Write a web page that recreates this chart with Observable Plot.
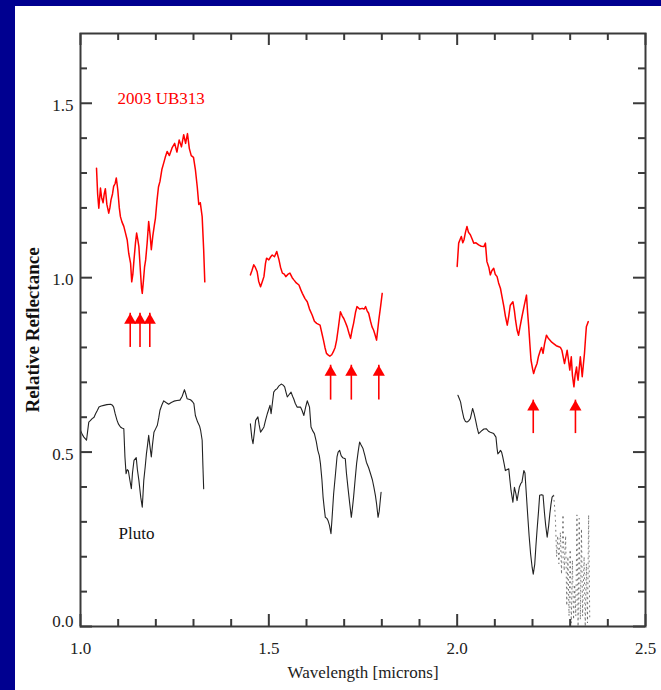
<!DOCTYPE html>
<html><head><meta charset="utf-8">
<script src="https://cdn.jsdelivr.net/npm/d3@7"></script>
<script src="https://cdn.jsdelivr.net/npm/@observablehq/plot@0.6"></script>
<style>
html,body{margin:0;padding:0;background:#000090;width:661px;height:690px;overflow:hidden}
#chart{position:absolute;left:15px;top:6px;width:646px;height:684px;background:#fff}
</style></head><body><div id="chart"></div>
<script>
// ---- data: [wavelength (microns), relative reflectance]
const erisJ = [[1.0425,1.314],[1.0455,1.24],[1.0486,1.199],[1.053,1.257],[1.056,1.23],[1.060,1.215],[1.063,1.24],[1.066,1.255],[1.070,1.21],[1.075,1.185],[1.078,1.20],[1.081,1.223],[1.085,1.24],[1.088,1.262],[1.092,1.27],[1.095,1.286],[1.099,1.252],[1.103,1.20],[1.106,1.175],[1.110,1.16],[1.115,1.147],[1.119,1.13],[1.124,1.108],[1.128,1.07],[1.133,1.041],[1.136,0.988],[1.139,1.01],[1.142,1.051],[1.146,1.10],[1.149,1.128],[1.152,1.11],[1.155,1.089],[1.159,1.02],[1.162,0.97],[1.164,0.955],[1.167,0.99],[1.170,1.03],[1.173,1.051],[1.177,1.10],[1.181,1.161],[1.185,1.12],[1.188,1.080],[1.192,1.12],[1.196,1.15],[1.199,1.171],[1.203,1.22],[1.207,1.26],[1.211,1.276],[1.216,1.31],[1.221,1.329],[1.225,1.345],[1.230,1.362],[1.236,1.35],[1.243,1.372],[1.250,1.385],[1.256,1.36],[1.262,1.395],[1.268,1.375],[1.274,1.41],[1.279,1.385],[1.284,1.413],[1.289,1.37],[1.294,1.35],[1.300,1.345],[1.305,1.31],[1.310,1.26],[1.314,1.21],[1.318,1.215],[1.323,1.175],[1.327,1.08],[1.330,0.988]];
const erisH = [[1.451,1.008],[1.455,1.02],[1.460,1.037],[1.464,1.03],[1.469,1.017],[1.473,0.99],[1.478,0.974],[1.483,0.99],[1.487,1.003],[1.491,1.04],[1.494,1.056],[1.500,1.051],[1.505,1.06],[1.509,1.065],[1.515,1.06],[1.521,1.075],[1.527,1.051],[1.531,1.03],[1.536,1.013],[1.541,1.01],[1.545,1.003],[1.551,1.01],[1.556,1.013],[1.562,1.00],[1.567,0.993],[1.573,0.985],[1.580,0.979],[1.585,0.965],[1.589,0.955],[1.596,0.94],[1.602,0.931],[1.608,0.91],[1.615,0.893],[1.621,0.875],[1.627,0.869],[1.636,0.864],[1.641,0.84],[1.645,0.821],[1.649,0.80],[1.653,0.783],[1.658,0.778],[1.662,0.775],[1.667,0.779],[1.671,0.787],[1.676,0.80],[1.680,0.821],[1.685,0.86],[1.690,0.902],[1.695,0.89],[1.699,0.883],[1.704,0.87],[1.708,0.859],[1.713,0.84],[1.717,0.826],[1.721,0.85],[1.725,0.869],[1.730,0.90],[1.734,0.917],[1.741,0.91],[1.748,0.912],[1.753,0.91],[1.757,0.917],[1.761,0.905],[1.765,0.898],[1.770,0.875],[1.774,0.859],[1.778,0.85],[1.781,0.840],[1.786,0.821],[1.789,0.85],[1.792,0.879],[1.797,0.92],[1.801,0.955]];
const erisK = [[2.000,1.032],[2.004,1.099],[2.008,1.11],[2.011,1.118],[2.015,1.10],[2.018,1.108],[2.022,1.13],[2.026,1.147],[2.030,1.13],[2.035,1.123],[2.040,1.11],[2.044,1.099],[2.050,1.10],[2.057,1.094],[2.064,1.09],[2.071,1.089],[2.075,1.099],[2.079,1.046],[2.084,1.03],[2.088,1.008],[2.092,1.02],[2.097,1.027],[2.101,1.01],[2.106,1.003],[2.110,0.985],[2.115,0.969],[2.120,0.94],[2.124,0.917],[2.128,0.89],[2.133,0.864],[2.137,0.89],[2.141,0.921],[2.148,0.931],[2.152,0.905],[2.155,0.878],[2.159,0.85],[2.163,0.835],[2.167,0.86],[2.172,0.888],[2.178,0.92],[2.184,0.950],[2.187,0.90],[2.190,0.859],[2.193,0.81],[2.196,0.764],[2.200,0.74],[2.203,0.725],[2.207,0.74],[2.212,0.754],[2.216,0.775],[2.221,0.792],[2.224,0.80],[2.228,0.783],[2.232,0.81],[2.237,0.835],[2.241,0.828],[2.246,0.821],[2.251,0.815],[2.256,0.811],[2.263,0.805],[2.270,0.802],[2.274,0.80],[2.278,0.792],[2.282,0.77],[2.285,0.754],[2.288,0.77],[2.292,0.792],[2.296,0.76],[2.299,0.735],[2.301,0.755],[2.303,0.773],[2.306,0.72],[2.310,0.687],[2.313,0.72],[2.317,0.744],[2.319,0.72],[2.321,0.706],[2.324,0.74],[2.327,0.773],[2.330,0.74],[2.332,0.716],[2.335,0.75],[2.338,0.783],[2.341,0.83],[2.343,0.859],[2.346,0.868],[2.348,0.874]];
const plutoJ = [[1.000,0.562],[1.005,0.55],[1.009,0.543],[1.016,0.534],[1.019,0.56],[1.022,0.586],[1.026,0.59],[1.031,0.596],[1.036,0.60],[1.040,0.610],[1.045,0.62],[1.049,0.629],[1.055,0.632],[1.062,0.634],[1.070,0.636],[1.080,0.637],[1.085,0.634],[1.088,0.629],[1.092,0.61],[1.097,0.591],[1.101,0.58],[1.106,0.572],[1.110,0.569],[1.115,0.567],[1.118,0.486],[1.121,0.438],[1.124,0.45],[1.127,0.447],[1.131,0.42],[1.135,0.395],[1.138,0.44],[1.142,0.476],[1.148,0.484],[1.151,0.45],[1.155,0.419],[1.160,0.37],[1.164,0.342],[1.166,0.38],[1.168,0.419],[1.172,0.46],[1.175,0.495],[1.178,0.52],[1.181,0.548],[1.184,0.52],[1.188,0.486],[1.191,0.52],[1.195,0.557],[1.200,0.568],[1.204,0.577],[1.208,0.60],[1.211,0.620],[1.216,0.635],[1.221,0.647],[1.227,0.642],[1.234,0.637],[1.241,0.642],[1.248,0.646],[1.256,0.648],[1.264,0.649],[1.270,0.66],[1.276,0.679],[1.280,0.665],[1.283,0.653],[1.292,0.650],[1.297,0.645],[1.301,0.639],[1.305,0.605],[1.311,0.586],[1.316,0.575],[1.319,0.562],[1.323,0.534],[1.325,0.46],[1.327,0.395]];
const plutoH = [[1.451,0.581],[1.455,0.54],[1.458,0.524],[1.462,0.56],[1.465,0.591],[1.471,0.601],[1.474,0.58],[1.478,0.557],[1.483,0.565],[1.487,0.572],[1.491,0.59],[1.496,0.610],[1.503,0.634],[1.506,0.610],[1.510,0.645],[1.513,0.672],[1.517,0.678],[1.522,0.682],[1.527,0.69],[1.533,0.695],[1.538,0.692],[1.542,0.687],[1.546,0.67],[1.549,0.658],[1.554,0.665],[1.559,0.672],[1.563,0.66],[1.566,0.653],[1.570,0.64],[1.575,0.629],[1.584,0.629],[1.588,0.62],[1.593,0.605],[1.598,0.63],[1.602,0.647],[1.608,0.629],[1.612,0.572],[1.617,0.56],[1.621,0.553],[1.626,0.53],[1.630,0.505],[1.634,0.49],[1.637,0.467],[1.641,0.42],[1.644,0.371],[1.647,0.34],[1.650,0.313],[1.654,0.31],[1.657,0.304],[1.661,0.29],[1.665,0.266],[1.668,0.313],[1.672,0.38],[1.677,0.438],[1.681,0.486],[1.684,0.50],[1.688,0.505],[1.692,0.49],[1.696,0.484],[1.703,0.481],[1.706,0.44],[1.710,0.399],[1.715,0.35],[1.719,0.313],[1.722,0.34],[1.725,0.371],[1.729,0.42],[1.733,0.467],[1.737,0.50],[1.741,0.529],[1.745,0.52],[1.750,0.510],[1.755,0.49],[1.759,0.471],[1.765,0.455],[1.770,0.438],[1.775,0.42],[1.779,0.399],[1.783,0.375],[1.786,0.352],[1.790,0.313],[1.793,0.33],[1.795,0.352],[1.798,0.385]];
const plutoK = [[2.002,0.663],[2.005,0.655],[2.009,0.644],[2.013,0.62],[2.018,0.596],[2.022,0.588],[2.026,0.586],[2.031,0.59],[2.035,0.596],[2.038,0.61],[2.041,0.625],[2.045,0.61],[2.049,0.591],[2.053,0.57],[2.057,0.553],[2.062,0.558],[2.066,0.562],[2.071,0.566],[2.077,0.567],[2.083,0.56],[2.088,0.557],[2.097,0.553],[2.103,0.543],[2.106,0.51],[2.108,0.495],[2.112,0.50],[2.115,0.505],[2.118,0.50],[2.121,0.486],[2.125,0.465],[2.128,0.447],[2.133,0.45],[2.137,0.452],[2.140,0.42],[2.143,0.390],[2.148,0.356],[2.152,0.399],[2.156,0.38],[2.159,0.361],[2.162,0.38],[2.165,0.399],[2.169,0.41],[2.172,0.414],[2.177,0.447],[2.180,0.44],[2.183,0.39],[2.187,0.323],[2.191,0.26],[2.195,0.208],[2.199,0.17],[2.202,0.150],[2.206,0.179],[2.209,0.23],[2.212,0.275],[2.216,0.33],[2.219,0.376],[2.224,0.378],[2.228,0.376],[2.232,0.323],[2.235,0.29],[2.239,0.256],[2.243,0.29],[2.246,0.323],[2.249,0.35],[2.252,0.371],[2.256,0.376]];
// noisy end of the Pluto K band (drawn dotted in the source)
const plutoKnoise = [[2.256,0.376],[2.259,0.34],[2.261,0.304],[2.264,0.20],[2.267,0.26],[2.270,0.18],[2.274,0.27],[2.277,0.15],[2.281,0.32],[2.284,0.16],[2.288,0.26],[2.291,0.06],[2.294,0.20],[2.297,0.03],[2.300,0.22],[2.303,0.01],[2.306,0.19],[2.309,0.02],[2.312,0.12],[2.315,0.03],[2.318,0.32],[2.321,0.00],[2.324,0.31],[2.327,0.02],[2.330,0.28],[2.333,0.03],[2.337,0.20],[2.340,0.00],[2.343,0.18],[2.346,0.01],[2.349,0.32],[2.352,0.02]];
// arrows: [wavelength, tip reflectance, base reflectance]
const arrowsJ = [[1.132,0.898,0.80],[1.158,0.898,0.80],[1.184,0.898,0.80]];
const arrowsH = [[1.664,0.749,0.649],[1.719,0.749,0.649],[1.792,0.749,0.649]];
const arrowsK = [[2.202,0.649,0.553],[2.314,0.649,0.553]];
const xMajor = [1.0, 1.5, 2.0, 2.5];
const xMinor = [1.1,1.2,1.3,1.4,1.6,1.7,1.8,1.9,2.1,2.2,2.3,2.4];
const yMajor = [0.0, 0.5, 1.0, 1.5];
const yMinor = [0.1,0.2,0.3,0.4,0.6,0.7,0.8,0.9,1.1,1.2,1.3,1.4,1.6];
const labelEris = "2003 UB313";
const labelPluto = "Pluto";
const xTitle = "Wavelength [microns]";
const yTitle = "Relative Reflectance";

// ---- build tables
const seg = (arr, name, band) => arr.map(([w, r]) => ({w, r, name, band}));
const eris = [...seg(erisJ,"eris","J"), ...seg(erisH,"eris","H"), ...seg(erisK,"eris","K")];
const pluto = [...seg(plutoJ,"pluto","J"), ...seg(plutoH,"pluto","H"), ...seg(plutoK,"pluto","K")];
const plutoNoise = seg(plutoKnoise, "pluto", "Kn");
const arrows = [...arrowsJ, ...arrowsH, ...arrowsK].map(([w, tip, base]) => ({w, tip, base}));

const W = 646, H = 684, mL = 65, mR = 16, mT = 27, mB = 64;
const FW = W - mL - mR, FH = H - mT - mB;
const ax = "#3a3a3a";
const majLen = 12, minLen = 7;

const plot = Plot.plot({
  width: W, height: H,
  marginLeft: mL, marginRight: mR, marginTop: mT, marginBottom: mB,
  x: {domain: [1.0, 2.5], axis: null},
  y: {domain: [0, 1.7], axis: null},
  style: {fontFamily: "'Liberation Serif', 'Times New Roman', serif", fontSize: "17px", background: "white", color: "black", overflow: "visible"},
  marks: [
    Plot.line(pluto, {x: "w", y: "r", z: "band", stroke: "#222", strokeWidth: 1.1}),
    Plot.line(plutoNoise, {x: "w", y: "r", stroke: "#555", strokeWidth: 0.8, strokeDasharray: "1,4"}),
    Plot.line(eris, {x: "w", y: "r", z: "band", stroke: "#ff0000", strokeWidth: 1.5}),
    Plot.ruleX(arrows, {x: "w", y1: "tip", y2: "base", stroke: "#ff0000", strokeWidth: 1.6}),
    Plot.dot(arrows, {x: "w", y: "tip", symbol: "triangle", r: 4.5, fill: "#ff0000", stroke: "none", dy: 7}),
    // ticks (inward)
    Plot.tickX(xMajor, {x: d => d, stroke: ax, strokeWidth: 2, insetTop: FH - majLen}),
    Plot.tickX(xMinor, {x: d => d, stroke: ax, strokeWidth: 2, insetTop: FH - minLen}),
    Plot.tickX(xMajor, {x: d => d, stroke: ax, strokeWidth: 2, insetBottom: FH - majLen}),
    Plot.tickX(xMinor, {x: d => d, stroke: ax, strokeWidth: 2, insetBottom: FH - minLen}),
    Plot.tickY(yMajor, {y: d => d, stroke: ax, strokeWidth: 2, insetRight: FW - majLen}),
    Plot.tickY(yMinor, {y: d => d, stroke: ax, strokeWidth: 2, insetRight: FW - minLen}),
    Plot.tickY(yMajor, {y: d => d, stroke: ax, strokeWidth: 2, insetLeft: FW - majLen}),
    Plot.tickY(yMinor, {y: d => d, stroke: ax, strokeWidth: 2, insetLeft: FW - minLen}),
    Plot.frame({stroke: ax, strokeWidth: 2}),
    // tick labels
    Plot.text(xMajor, {x: d => d, text: d => d.toFixed(1), frameAnchor: "bottom", dy: 22, lineAnchor: "middle", fill: "#222"}),
    Plot.text(yMajor.filter(v => v > 0), {y: d => d, text: d => d.toFixed(1), frameAnchor: "left", dx: -7, dy: 2, textAnchor: "end", lineAnchor: "middle", fill: "#222"}),
    Plot.text(yMajor.filter(v => v === 0), {y: d => d, text: d => d.toFixed(1), frameAnchor: "left", dx: -7, dy: -5, textAnchor: "end", lineAnchor: "middle", fill: "#222"}),
    // titles
    Plot.text([xTitle], {text: d => d, frameAnchor: "bottom", dy: 46, textAnchor: "middle", lineAnchor: "middle", fill: "#222"}),
    Plot.text([yTitle], {text: d => d, frameAnchor: "left", dx: -48, rotate: -90, textAnchor: "middle", lineAnchor: "middle", fill: "#111", fontSize: 19, fontWeight: 600}),
    // labels
    Plot.text([labelEris], {text: d => d, frameAnchor: "top-left", dx: 37, dy: 65, textAnchor: "start", lineAnchor: "middle", fill: "#ff0000"}),
    Plot.text([labelPluto], {text: d => d, frameAnchor: "top-left", dx: 38, dy: 500, textAnchor: "start", lineAnchor: "middle", fill: "#111"})
  ]
});
document.getElementById("chart").appendChild(plot);
</script></body></html>
